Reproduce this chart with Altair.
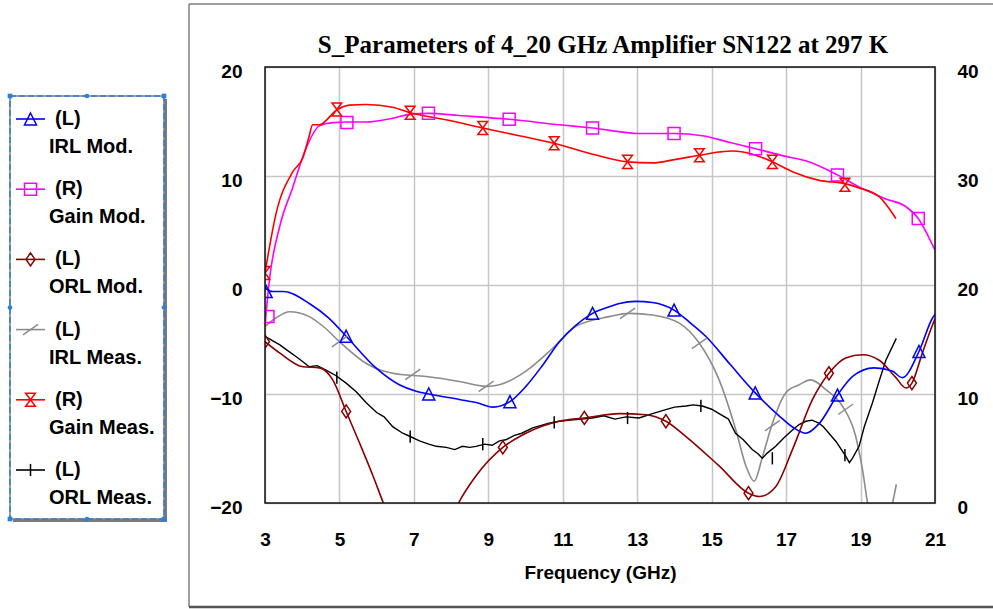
import altair as alt
import pandas as pd

# ---------------- text ----------------
TITLE = "S_Parameters of 4_20 GHz Amplifier SN122 at 297 K"
X_TITLE = "Frequency (GHz)"
x_ticks = [3, 5, 7, 9, 11, 13, 15, 17, 19, 21]
left_ticks = [-20, -10, 0, 10, 20]
right_ticks = [0, 10, 20, 30, 40]
series_names = ["IRL Mod.", "Gain Mod.", "ORL Mod.", "IRL Meas.", "Gain Meas.", "ORL Meas."]
series_side = ["(L)", "(R)", "(L)", "(L)", "(R)", "(L)"]

# ---------------- data (left axis, dB) ----------------
irl_mod_f = [3.0, 3.2, 3.5, 4.19, 4.7, 5.18, 5.98, 6.61, 7.06, 7.40, 8.22, 8.7, 9.12, 9.58, 10.01,
             10.45, 10.91, 11.35, 11.8, 12.25, 12.52, 12.97, 13.41, 13.99, 14.4, 14.84, 15.5, 16.17,
             16.81, 17.2, 17.53, 17.89, 18.38, 18.78, 19.36, 19.85, 20.12, 20.57, 20.93, 21.0]
irl_mod_v = [-0.3, -0.6, -0.6, -1.7, -3.0, -4.7, -7.6, -9.15, -9.75, -10.0, -10.5, -10.8, -11.2, -10.7, -9.3,
             -7.4, -5.2, -3.7, -2.6, -2.0, -1.7, -1.5, -1.6, -2.3, -3.4, -4.7, -7.3, -9.9,
             -12.0, -13.1, -13.6, -12.7, -10.1, -8.4, -7.6, -7.9, -8.5, -6.1, -3.05, -2.7]

orl_mod_f = [3.0, 3.4, 4.02, 4.46, 4.82, 5.18, 5.54, 5.9, 6.18, 6.6, 7.2, 7.8, 8.2, 8.67, 9.39, 10.01,
             10.9, 11.58, 12.52, 13.23, 13.77, 14.31, 15.2, 15.99, 16.28, 16.72, 17.17, 17.71, 18.15,
             18.6, 19.05, 19.5, 19.95, 20.22, 20.38, 20.66, 20.93, 21.0]
orl_mod_v = [-5.2, -6.25, -7.5, -7.6, -8.7, -11.6, -14.5, -17.5, -20.0, -23.5, -25.0, -23.0, -20.0, -17.5,
             -14.9, -13.6, -12.5, -12.2, -11.8, -11.9, -12.5, -13.9, -16.6, -19.1, -19.4, -18.5, -15.1,
             -10.5, -8.1, -6.7, -6.4, -6.9, -8.5, -9.45, -9.0, -6.25, -3.7, -3.1]

irl_meas_f = [3.0, 3.3, 3.66, 4.19, 4.6, 5.0, 5.72, 6.43, 7.33, 8.22, 8.94, 9.3, 10.01, 10.73, 11.35,
              12.25, 12.79, 13.41, 14.13, 14.67, 15.2, 15.65, 15.92, 16.14, 16.37, 16.63, 16.99, 17.35,
              17.66, 18.07, 18.51, 18.87, 19.05, 19.19, 19.5, 19.86, 19.96]
irl_meas_v = [-3.8, -3.0, -2.45, -2.9, -3.9, -5.2, -7.2, -8.1, -8.4, -8.85, -9.3, -9.15, -7.9, -5.8, -3.8,
              -2.9, -2.6, -2.75, -3.5, -5.35, -8.7, -13.3, -16.6, -18.0, -15.7, -12.7, -9.9, -9.15,
              -8.7, -9.6, -11.1, -13.9, -16.9, -20.0, -23.5, -20.0, -18.3]

orl_meas_f = [3.0, 3.2, 3.4, 3.6, 3.85, 4.0, 4.19, 4.4, 4.64, 4.9, 5.18, 5.45, 5.72, 6.0, 6.2, 6.43,
              6.7, 6.9, 7.15, 7.4, 7.6, 7.87, 8.1, 8.3, 8.5, 8.67, 8.9, 9.1, 9.3, 9.47, 9.7, 9.9, 10.19,
              10.4, 10.6, 10.9, 11.2, 11.5, 11.8, 12.1, 12.4, 12.7, 13.05, 13.41, 13.7, 14.0, 14.31,
              14.5, 14.75, 15.0, 15.2, 15.45, 15.64, 15.85, 16.09, 16.25, 16.36, 16.5, 16.72, 16.95,
              17.17, 17.35, 17.53, 17.7, 17.89, 18.0, 18.15, 18.35, 18.6, 18.7, 18.78, 18.96, 19.1,
              19.32, 19.5, 19.68, 19.96]
orl_meas_v = [-4.7, -5.1, -5.5, -6.0, -6.6, -7.0, -7.5, -7.4, -7.8, -8.3, -9.0, -9.8, -10.8, -11.7,
              -12.1, -13.0, -13.6, -13.9, -14.3, -14.6, -14.8, -14.9, -15.1, -14.8, -14.9, -14.8, -14.6,
              -14.7, -14.3, -14.2, -13.8, -13.6, -13.1, -12.9, -12.7, -12.5, -12.4, -12.3, -12.2, -12.0,
              -12.3, -12.1, -12.2, -11.8, -11.5, -11.2, -11.1, -11.0, -11.1, -11.4, -11.8, -12.3, -13.6,
              -14.2, -15.1, -15.5, -15.9, -15.4, -14.8, -14.0, -13.3, -12.8, -12.5, -12.4, -12.7, -13.0,
              -13.6, -14.4, -15.7, -16.3, -15.9, -14.8, -13.0, -10.8, -8.8, -6.9, -4.9]

# ---------------- data (right axis, gain dB) ----------------
gain_mod_f = [3.0, 3.12, 3.39, 3.75, 4.11, 4.46, 4.82, 5.2, 5.72, 6.43, 6.97, 7.39, 8.22, 9.56, 10.91,
              11.8, 13.05, 13.99, 14.75, 15.47, 16.18, 16.99, 17.53, 18.38, 18.96, 19.68, 20.21, 20.55,
              20.93, 21.0]
gain_mod_v = [16.3, 20.5, 25.3, 29.0, 32.6, 34.6, 34.9, 34.95, 34.95, 35.3, 35.7, 35.75, 35.55, 35.2,
              34.7, 34.4, 33.9, 33.9, 33.7, 33.1, 32.5, 31.8, 31.4, 30.1, 29.0, 27.9, 27.2, 26.1, 23.7, 23.2]

gain_meas_f = [3.0, 3.3, 3.75, 4.02, 4.19, 4.28, 4.46, 4.93, 5.27, 5.72, 6.43, 6.9, 7.86, 8.85, 9.83,
               10.77, 11.8, 12.74, 13.41, 14.0, 14.67, 15.2, 15.56, 16.1, 16.63, 17.17, 17.89, 18.58,
               18.96, 19.5, 19.95]
gain_meas_v = [21.1, 26.6, 30.4, 31.7, 33.7, 34.7, 34.7, 36.07, 36.5, 36.56, 36.3, 35.8, 35.16, 34.4,
               33.7, 33.0, 32.0, 31.3, 31.2, 31.5, 31.9, 32.2, 32.3, 32.0, 31.3, 30.4, 29.6, 29.3,
               28.9, 28.1, 26.1]

# ---------------- marker positions ----------------
irl_mod_mk_f = [3.03, 5.18, 7.40, 9.58, 11.80, 13.99, 16.17, 18.38, 20.57]
irl_mod_mk_v = [-0.6, -4.7, -10.0, -10.7, -2.6, -2.3, -9.9, -10.1, -6.1]
gain_mod_mk_f = [3.08, 5.20, 7.39, 9.56, 11.80, 13.99, 16.18, 18.38, 20.55]
gain_mod_mk_v = [17.1, 34.9, 35.75, 35.2, 34.4, 33.9, 32.5, 30.1, 26.1]
orl_mod_mk_f = [3.0, 5.18, 9.39, 11.58, 13.77, 15.99, 18.15, 20.38]
orl_mod_mk_v = [-5.2, -11.6, -14.9, -12.2, -12.5, -19.1, -8.1, -9.0]
irl_meas_mk_f = [5.0, 6.97, 8.94, 12.74, 14.67, 16.63, 18.6]
irl_meas_mk_v = [-5.2, -8.2, -9.3, -2.6, -5.35, -12.9, -11.4]
gain_meas_mk_f = [3.0, 4.93, 6.9, 8.85, 10.77, 12.74, 14.67, 16.63, 18.58]
gain_meas_mk_v = [21.1, 36.1, 35.8, 34.4, 33.0, 31.3, 31.9, 31.3, 29.2]
orl_meas_mk_f = [4.93, 6.9, 8.85, 10.77, 12.74, 14.71, 16.63, 18.58]
orl_meas_mk_v = [-8.5, -13.9, -14.6, -12.6, -12.2, -11.1, -15.9, -15.6]

# ---------------- styles ----------------
W, H = 670, 436
FONT = "Liberation Sans"
SERIF = "Liberation Serif"
C_BLUE, C_MAG, C_DRED, C_GRAY, C_RED, C_BLK = "#0000ff", "#ff00ff", "#8b0000", "#8c8c8c", "#ff0000", "#000000"
series_colors = [C_BLUE, C_MAG, C_DRED, C_GRAY, C_RED, C_BLK]

SH_TRI = "M0,-1L1,1L-1,1Z"
SH_SQ = "square"
SH_DIA = "M0,-1.25L0.85,0L0,1.25L-0.85,0Z"
SH_SLASH = "M-1,0.7L1,-0.7"
SH_HOUR = "M-0.85,-1.15L0.85,-1.15L-0.85,1.15L0.85,1.15Z"
SH_TICK = "M0,-1L0,1"
series_shapes = [SH_TRI, SH_SQ, SH_DIA, SH_SLASH, SH_HOUR, SH_TICK]
series_sizes = [144, 144, 110, 225, 130, 150]

xscale = alt.Scale(domain=[3, 21], nice=False, zero=False)
lscale = alt.Scale(domain=[-20, 20], nice=False, zero=False)
rscale = alt.Scale(domain=[0, 40], nice=False, zero=False)

lab = dict(labelFont=FONT, labelFontSize=19, labelFontWeight="bold", labelColor="black",
           labelOverlap=False, ticks=False, tickSize=0, domain=False)
x_axis = alt.Axis(values=x_ticks, title=X_TITLE, grid=True, gridColor="#c6c6c6", gridWidth=1.5,
                  labelPadding=36, labelBaseline="middle", labelFlush=False,
                  titleFont=FONT, titleFontSize=19, titleFontWeight="bold", titleColor="black",
                  titleX=W / 2, titleY=69, titleBaseline="middle", titleAnchor="middle", **lab)
left_axis = alt.Axis(values=left_ticks, orient="left", grid=True, gridColor="#c6c6c6", gridWidth=1.5,
                     labelPadding=23, labelOffset=4, title=None, **lab)
right_axis = alt.Axis(values=right_ticks, orient="right", grid=False, labelPadding=22, labelOffset=4,
                      title=None, **lab)

X = alt.X("f:Q", scale=xscale, axis=x_axis)
one = pd.DataFrame({"k": [0]})


def line_layer(f, v, color, scale, axis, interp="monotone", width=1.6):
    df = pd.DataFrame({"f": f, "v": v})
    return alt.Chart(df).mark_line(color=color, strokeWidth=width, clip=True, interpolate=interp).encode(
        x=X, y=alt.Y("v:Q", scale=scale, axis=axis))


def marker_layer(f, v, color, shape, size, scale):
    df = pd.DataFrame({"f": f, "v": v})
    return alt.Chart(df).mark_point(shape=shape, size=size, color=color, filled=False, strokeWidth=1.5,
                                    opacity=1, clip=True).encode(
        x=X, y=alt.Y("v:Q", scale=scale, axis=None))


def deco_rule(x, y, x2=None, y2=None, color="#7f7f7f", width=1.5):
    enc = dict(x=alt.value(x), y=alt.value(y))
    if x2 is not None:
        enc["x2"] = alt.value(x2)
    if y2 is not None:
        enc["y2"] = alt.value(y2)
    return alt.Chart(one).mark_rule(color=color, strokeWidth=width).encode(**enc)


def deco_rect(x, x2, y, y2, **kw):
    return alt.Chart(one).mark_rect(**kw).encode(
        x=alt.value(x), x2=alt.value(x2), y=alt.value(y), y2=alt.value(y2))


# ---------------- outer frame ----------------
frame = [
    deco_rule(-76, -63, y2=540),
    deco_rule(-76, -63, x2=728),
    deco_rule(-76, 540, x2=728, color="#555555", width=2.5),
]

# ---------------- legend ----------------
LX0, LX1, LY0, LY1 = -255, -101, 29, 452
legend_box = [
    deco_rect(LX0 + 3, LX1 + 3, LY0 + 3, LY1 + 3, fill="#7a7a7a"),
    deco_rect(LX0, LX1, LY0, LY1, fill="white", stroke="#808080", strokeWidth=1.5),
    deco_rect(LX0, LX1, LY0, LY1, fillOpacity=0, stroke="#2f7fd6", strokeWidth=1.5, strokeDash=[6, 3]),
]
hx = [LX0, LX1, LX0, LX1, (LX0 + LX1) / 2, (LX0 + LX1) / 2, LX0, LX1]
hy = [LY0, LY0, LY1, LY1, LY0, LY1, (LY0 + LY1) / 2, (LY0 + LY1) / 2]
hs = ["square"] * 4 + ["circle"] * 4
handles = alt.Chart(pd.DataFrame({"hx": hx, "hy": hy, "hs": hs})).mark_point(
    filled=True, color="#2f7fd6", size=22, opacity=1).encode(
    x=alt.X("hx:Q", scale=None, axis=None), y=alt.Y("hy:Q", scale=None, axis=None),
    shape=alt.Shape("hs:N", scale=None, legend=None))

leg = pd.DataFrame({"name": series_names, "side": series_side, "col": series_colors,
                    "shp": series_shapes, "sz": series_sizes})
leg["ly"] = [52 + 70.2 * i for i in range(len(leg))]
leg["ly2"] = leg["ly"] + 28
LY = alt.Y("ly:Q", scale=None, axis=None)
leg_lines = alt.Chart(leg).mark_rule(strokeWidth=1.6).encode(
    x=alt.value(-249), x2=alt.value(-220), y=LY, color=alt.Color("col:N", scale=None, legend=None))
leg_marks = alt.Chart(leg).mark_point(filled=False, strokeWidth=1.5, opacity=1).encode(
    x=alt.value(-234.5), y=LY, color=alt.Color("col:N", scale=None, legend=None),
    shape=alt.Shape("shp:N", scale=None, legend=None), size=alt.Size("sz:Q", scale=None, legend=None))
leg_t1 = alt.Chart(leg).mark_text(align="left", baseline="middle", font=FONT, fontSize=20,
                                  fontWeight="bold", color="black").encode(
    x=alt.value(-210), y=LY, text="side:N")
leg_t2 = alt.Chart(leg).mark_text(align="left", baseline="middle", font=FONT, fontSize=20,
                                  fontWeight="bold", color="black").encode(
    x=alt.value(-216), y=alt.Y("ly2:Q", scale=None, axis=None), text="name:N")

# ---------------- data layers ----------------
lines = [
    line_layer(irl_meas_f, irl_meas_v, C_GRAY, lscale, None),
    line_layer(orl_meas_f, orl_meas_v, C_BLK, lscale, None, interp="linear", width=1.4),
    line_layer(orl_mod_f, orl_mod_v, C_DRED, lscale, None),
    line_layer(irl_mod_f, irl_mod_v, C_BLUE, lscale, left_axis),
    line_layer(gain_mod_f, gain_mod_v, C_MAG, rscale, right_axis),
    line_layer(gain_meas_f, gain_meas_v, C_RED, rscale, None),
]
markers = [
    marker_layer(irl_meas_mk_f, irl_meas_mk_v, C_GRAY, SH_SLASH, 225, lscale),
    marker_layer(orl_meas_mk_f, orl_meas_mk_v, C_BLK, SH_TICK, 150, lscale),
    marker_layer(orl_mod_mk_f, orl_mod_mk_v, C_DRED, SH_DIA, 110, lscale),
    marker_layer(irl_mod_mk_f, irl_mod_mk_v, C_BLUE, SH_TRI, 144, lscale),
    marker_layer(gain_mod_mk_f, gain_mod_mk_v, C_MAG, SH_SQ, 144, rscale),
    marker_layer(gain_meas_mk_f, gain_meas_mk_v, C_RED, SH_HOUR, 130, rscale),
]

border = deco_rect(0, W, 0, H, fillOpacity=0, stroke="#111111", strokeWidth=1.5)
title = alt.Chart(one).mark_text(font=SERIF, fontSize=25, fontWeight="bold", color="black",
                                 align="center", baseline="middle").encode(
    x=alt.value(338), y=alt.value(-22), text=alt.value(TITLE))

chart = alt.layer(
    *frame, *legend_box, handles, leg_lines, leg_marks, leg_t1, leg_t2,
    *lines, *markers, border, title
).resolve_scale(y="independent").properties(
    width=W, height=H,
    autosize=alt.AutoSizeParams(type="none"),
    padding={"left": 265, "top": 67, "right": 58, "bottom": 106},
).configure(background="white").configure_view(strokeWidth=0)

chart.save("out.html", embed_options={"renderer": "svg", "actions": False})
